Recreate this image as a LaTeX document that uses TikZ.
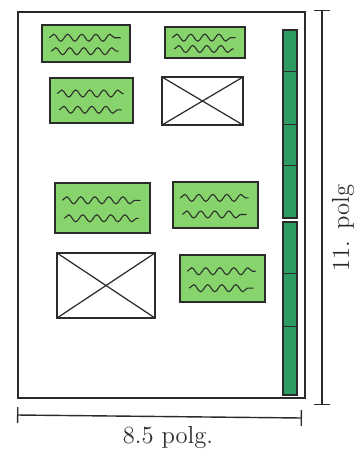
\documentclass[tikz,border=0pt]{standalone}
\usepackage{tikz}
\usetikzlibrary{
    arrows.meta, positioning, calc, fit,
    decorations.pathmorphing
}
\definecolor{cLight}{HTML}{86D46B}
\definecolor{cDark}{HTML}{2E9B63}
\definecolor{cInk}{HTML}{2B2B2B}

\tikzset{
    ink/.style={draw=cInk, line width=0.8pt},
    txtbox/.style={ink, fill=cLight, inner sep=0pt},
    imgbox/.style={ink, inner sep=0pt,
        path picture={\draw[cInk, line width=0.7pt]
            (path picture bounding box.north west) -- (path picture bounding box.south east)
            (path picture bounding box.south west) -- (path picture bounding box.north east);}},
    sidebox/.style={ink, fill=cDark, inner sep=0pt},
    squiggle/.style={cInk, line width=0.6pt, decorate,
        decoration={snake, amplitude=2pt, segment length=8pt}},
    dimline/.style={ink, {Bar[width=9pt]}-{Bar[width=9pt]}},
    dimtext/.style={font=\fontsize{14}{16}\selectfont, text=cInk}
}

\begin{document}
\begin{tikzpicture}[x=0.02cm, y=-0.02cm]
    \useasboundingbox (0,0) rectangle (357,458);

    % page
    \node[ink, inner sep=0pt, fit={(18,12) (305,398)}] (page) {};

    % text blocks
    \node[txtbox, fit={(42,25) (130,62)}]   (t1) {};
    \node[txtbox, fit={(165,27) (245,58)}]  (t2) {};
    \node[txtbox, fit={(50,78) (133,123)}]  (t3) {};
    \node[txtbox, fit={(55,183) (150,233)}] (t4) {};
    \node[txtbox, fit={(173,182) (258,228)}] (t5) {};
    \node[txtbox, fit={(180,255) (265,302)}] (t6) {};
    \foreach \b in {t1,t2,t3,t4,t5,t6} {
        \draw[squiggle] ($(\b.north west)!.35!(\b.south west)+(8,0)$)
            -- ($(\b.north east)!.35!(\b.south east)+(-10,0)$);
        \draw[squiggle] ($(\b.north west)!.7!(\b.south west)+(10,0)$)
            -- ($(\b.north east)!.7!(\b.south east)+(-12,0)$);
    }

    % image blocks
    \node[imgbox, fit={(162,77) (243,125)}] (i1) {};
    \node[imgbox, fit={(57,253) (155,318)}] (i2) {};

    % side column
    \node[sidebox, fit={(283,30) (297,218)}]  (s1) {};
    \node[sidebox, fit={(283,222) (297,395)}] (s2) {};
    \foreach \f in {.22,.5,.72} {
        \draw[cInk, line width=0.5pt] ($(s1.north west)!\f!(s1.south west)$)
            -- ($(s1.north east)!\f!(s1.south east)$);
    }
    \foreach \f in {.3,.6} {
        \draw[cInk, line width=0.5pt] ($(s2.north west)!\f!(s2.south west)$)
            -- ($(s2.north east)!\f!(s2.south east)$);
    }

    % dimensions
    \coordinate (h1) at (322,10);
    \coordinate (h2) at (322,405);
    \draw[dimline] (h1) -- (h2);
    \node[dimtext, rotate=90] (hl) at (343,228) {11. polg};

    \coordinate (w1) at (17,415);
    \coordinate (w2) at (302,418);
    \draw[dimline] (w1) -- (w2);
    \node[dimtext] (wl) at (168,437) {8.5 polg.};
\end{tikzpicture}
\end{document}
